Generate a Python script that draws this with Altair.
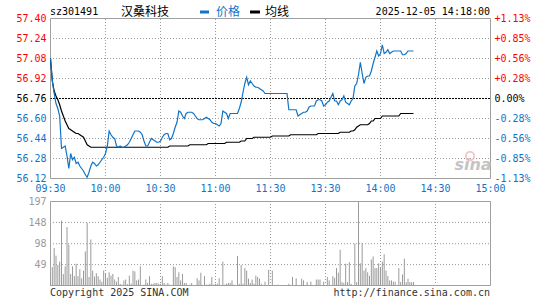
import altair as alt
import pandas as pd

# ---------------- data ----------------
CODE = "sz301491"
NAME = "汉桑科技"
STAMP = "2025-12-05 14:18:00"
SERIES = ["价格", "均线"]
COPYRIGHT = "Copyright 2025 SINA.COM"
URL = "http://finance.sina.com.cn"
WATERMARK = "sina"

PREV_CLOSE = 56.76
PRICE_TICKS = [56.12, 56.28, 56.44, 56.60, 56.76, 56.92, 57.08, 57.24, 57.40]
VOLUME_TICKS = [49, 98, 148, 197]
TIME_TICKS = [0, 30, 60, 90, 120, 150, 180, 210, 240]
TIME_LABELS = ["09:30", "10:00", "10:30", "11:00", "11:30",
               "13:30", "14:00", "14:30", "15:00"]

# one value per trading minute, 09:30 ... 11:30/13:00 ... 14:18
PRICE = [
    57.08, 56.90, 56.80, 56.72, 56.68, 56.62, 56.36, 56.37, 56.38, 56.30,
    56.20, 56.32, 56.27, 56.29, 56.24, 56.25, 56.22, 56.20, 56.18, 56.15,
    56.13, 56.17, 56.22, 56.25, 56.24, 56.22, 56.23, 56.25, 56.27, 56.29,
    56.32, 56.38, 56.50, 56.47, 56.45, 56.44, 56.38, 56.37, 56.38, 56.37,
    56.37, 56.38, 56.39, 56.41, 56.44, 56.47, 56.50, 56.50, 56.50, 56.49,
    56.47, 56.42, 56.38, 56.38, 56.41, 56.44, 56.43, 56.42, 56.41, 56.41,
    56.42, 56.45, 56.47, 56.48, 56.48, 56.43, 56.44, 56.48, 56.53, 56.57,
    56.66, 56.65, 56.62, 56.60, 56.64, 56.65, 56.65, 56.65, 56.64, 56.62,
    56.60, 56.59, 56.59, 56.59, 56.60, 56.61, 56.60, 56.59, 56.57, 56.56,
    56.56, 56.55, 56.54, 56.56, 56.66, 56.65, 56.64, 56.60, 56.64, 56.64,
    56.64, 56.64, 56.64, 56.68, 56.73, 56.81, 56.88, 56.93, 56.87, 56.90,
    56.88, 56.86, 56.85, 56.85, 56.84, 56.83, 56.82, 56.80, 56.80, 56.80,
    56.80, 56.80, 56.80, 56.80, 56.80, 56.80, 56.80, 56.80, 56.80, 56.80,
    56.67, 56.67, 56.67, 56.67, 56.67, 56.62, 56.63, 56.64, 56.65, 56.65,
    56.66, 56.69, 56.70, 56.70, 56.70, 56.74, 56.75, 56.75, 56.74, 56.70,
    56.71, 56.73, 56.74, 56.77, 56.80, 56.74, 56.74, 56.71, 56.74, 56.75,
    56.78, 56.73, 56.72, 56.71, 56.74, 56.76, 56.86, 56.88, 56.95, 57.05,
    56.96, 56.88, 56.93, 56.94, 56.94, 56.98, 57.04, 57.09, 57.14, 57.10,
    57.12, 57.19, 57.12, 57.13, 57.15, 57.12, 57.13, 57.14, 57.14, 57.14,
    57.14, 57.14, 57.11, 57.11, 57.12, 57.14, 57.14, 57.14, 57.14,
]

AVERAGE = [
    57.08, 56.90, 56.82, 56.78, 56.75, 56.71, 56.66, 56.62, 56.58, 56.55,
    56.52, 56.51, 56.50, 56.49, 56.48, 56.48, 56.47, 56.46, 56.45, 56.42,
    56.39, 56.38, 56.37, 56.37, 56.37, 56.37, 56.37, 56.37, 56.37, 56.37,
    56.37, 56.37, 56.37, 56.37, 56.37, 56.37, 56.37, 56.37, 56.37, 56.37,
    56.37, 56.37, 56.37, 56.37, 56.37, 56.37, 56.37, 56.37, 56.37, 56.37,
    56.37, 56.37, 56.37, 56.37, 56.37, 56.37, 56.37, 56.37, 56.37, 56.37,
    56.37, 56.37, 56.37, 56.37, 56.37, 56.38, 56.38, 56.38, 56.38, 56.38,
    56.38, 56.38, 56.38, 56.38, 56.38, 56.38, 56.39, 56.39, 56.39, 56.39,
    56.39, 56.39, 56.39, 56.39, 56.39, 56.39, 56.40, 56.40, 56.40, 56.40,
    56.40, 56.40, 56.40, 56.40, 56.40, 56.40, 56.41, 56.41, 56.41, 56.41,
    56.41, 56.41, 56.41, 56.41, 56.42, 56.42, 56.42, 56.44, 56.44, 56.44,
    56.44, 56.45, 56.45, 56.45, 56.45, 56.45, 56.45, 56.45, 56.45, 56.45,
    56.45, 56.46, 56.46, 56.46, 56.46, 56.46, 56.46, 56.46, 56.46, 56.46,
    56.46, 56.47, 56.47, 56.47, 56.47, 56.47, 56.47, 56.47, 56.47, 56.47,
    56.47, 56.47, 56.47, 56.47, 56.47, 56.47, 56.48, 56.48, 56.48, 56.48,
    56.48, 56.48, 56.48, 56.48, 56.48, 56.48, 56.48, 56.48, 56.49, 56.49,
    56.49, 56.49, 56.49, 56.49, 56.50, 56.50, 56.51, 56.53, 56.54, 56.55,
    56.55, 56.55, 56.55, 56.55, 56.56, 56.58, 56.58, 56.60, 56.60, 56.60,
    56.60, 56.62, 56.62, 56.62, 56.62, 56.62, 56.62, 56.62, 56.62, 56.62,
    56.62, 56.64, 56.64, 56.64, 56.64, 56.64, 56.64, 56.64, 56.64,
]

VOLUME = [
    14, 43, 88, 70, 48, 56, 152, 27, 45, 137,
    96, 27, 45, 22, 51, 22, 38, 17, 35, 80,
    147, 20, 108, 35, 21, 29, 22, 14, 9, 35,
    27, 18, 31, 23, 27, 14, 9, 20, 4, 2,
    12, 14, 3, 23, 4, 35, 33, 12, 14, 45,
    0, 2, 14, 6, 22, 4, 4, 6, 6, 4,
    4, 22, 6, 2, 6, 2, 0, 45, 43, 20,
    31, 12, 27, 6, 6, 0, 2, 6, 0, 0,
    17, 12, 30, 0, 22, 2, 2, 4, 20, 2,
    4, 4, 17, 0, 56, 2, 4, 6, 6, 12,
    2, 0, 69, 4, 48, 4, 41, 35, 16, 6,
    14, 4, 23, 20, 16, 4, 0, 9, 0, 37,
    0, 35, 0, 0, 2, 0, 0, 0, 0, 0,
    4, 0, 20, 0, 17, 0, 0, 16, 12, 0,
    8, 0, 9, 0, 0, 14, 14, 14, 0, 9,
    0, 20, 12, 0, 22, 18, 41, 30, 84, 8,
    6, 51, 8, 55, 4, 0, 98, 8, 197, 52,
    100, 35, 41, 31, 23, 61, 68, 41, 41, 52,
    41, 56, 73, 35, 22, 12, 12, 9, 9, 0,
    41, 8, 26, 63, 8, 16, 8, 8, 8,
]

# ---------------- styles ----------------
BLUE = "#0f74c8"
RED = "#ff0000"
BLACK = "#000000"
GRID = "#999999"
FRAME = "#a0a0a0"
VOLGRAY = "#9a9a9a"
MONO = "DejaVu Sans Mono"
CJK = "Noto Sans CJK SC"

df = pd.DataFrame({"m": list(range(len(PRICE))), "price": PRICE,
                   "avg": AVERAGE, "vol": VOLUME})
time_df = pd.DataFrame({"t": TIME_TICKS, "lab": TIME_LABELS})
inner_time_df = pd.DataFrame({"t": TIME_TICKS[1:-1]})
edge_time_df = pd.DataFrame({"t": [TIME_TICKS[0], TIME_TICKS[-1]]})
inner_price_df = pd.DataFrame({"p": [p for p in PRICE_TICKS[1:-1] if abs(p - PREV_CLOSE) > 1e-6]})
edge_price_df = pd.DataFrame({"p": [PRICE_TICKS[0], PRICE_TICKS[-1]]})
inner_vol_df = pd.DataFrame({"v": VOLUME_TICKS[:-1]})
edge_vol_df = pd.DataFrame({"v": [0, VOLUME_TICKS[-1]]})


def price_scale():
    return alt.Scale(domain=[PRICE_TICKS[0], PRICE_TICKS[-1]], range=[160.5, 0.5],
                     nice=False, zero=False)


def volume_scale():
    return alt.Scale(domain=[0, VOLUME_TICKS[-1]], range=[267.5, 183.5], nice=False)


XS = alt.Scale(domain=[TIME_TICKS[0], TIME_TICKS[-1]], range=[0.5, 440.5], nice=False, zero=False)


def xm(field="m:Q"):
    return alt.X(field, scale=XS, axis=None)


def hrules(data, field, scale, color, dash=None):
    kw = {"strokeDash": dash, "strokeDashOffset": 0.5} if dash else {}
    return alt.Chart(data).mark_rule(color=color, strokeWidth=1, **kw).encode(
        x=alt.X(datum=TIME_TICKS[0], scale=XS, axis=None), x2=alt.X2(datum=TIME_TICKS[-1]),
        y=alt.Y(field, scale=scale, axis=None))


def vrules(data, lo, hi, scale, color, dash=None):
    kw = {"strokeDash": dash, "strokeDashOffset": 0.5} if dash else {}
    return alt.Chart(data).mark_rule(color=color, strokeWidth=1, **kw).encode(
        x=xm("t:Q"), y=alt.Y(datum=lo, scale=scale, axis=None), y2=alt.Y2(datum=hi))


price_color = {
    "condition": [
        {"test": f"datum.value > {PREV_CLOSE + 0.005}", "value": RED},
        {"test": f"datum.value > {PREV_CLOSE - 0.005}", "value": BLACK},
    ],
    "value": BLUE,
}
pct_expr = (
    f"datum.value > {PREV_CLOSE + 0.005} ? '+' + format((datum.value - {PREV_CLOSE}) / {PREV_CLOSE} * 100, '.2f') + '%' : "
    f"datum.value < {PREV_CLOSE - 0.005} ? '-' + format(({PREV_CLOSE} - datum.value) / {PREV_CLOSE} * 100, '.2f') + '%' : '0.00%'"
)

left_axis = alt.Axis(values=PRICE_TICKS, format=".2f", orient="left",
                     labelColor=price_color, domain=False, ticks=False, grid=False,
                     title=None, labelFont=MONO, labelFontSize=10, labelPadding=4,
                     labelOverlap=False)
right_axis = alt.Axis(values=PRICE_TICKS, labelExpr=pct_expr, orient="right", offset=-1,
                      labelColor=price_color, domain=False, ticks=False, grid=False,
                      title=None, labelFont=MONO, labelFontSize=10, labelPadding=3,
                      labelOverlap=False)
vol_axis = alt.Axis(values=VOLUME_TICKS, format="d", orient="left",
                    labelColor=VOLGRAY, domain=False, ticks=False, grid=False,
                    title=None, labelFont=MONO, labelFontSize=10, labelPadding=4,
                    labelOverlap=False)

one = alt.Data(values=[{"k": 1}])

# ---------------- grids and frames (all rules) ----------------
grid_layers = [
    hrules(inner_price_df, "p:Q", price_scale(), GRID, [1, 2]),
    vrules(inner_time_df, PRICE_TICKS[0], PRICE_TICKS[-1], price_scale(), GRID, [1, 2]),
    hrules(inner_vol_df, "v:Q", volume_scale(), GRID, [1, 2]),
    vrules(inner_time_df, 0, VOLUME_TICKS[-1], volume_scale(), GRID, [1, 2]),
    hrules(edge_price_df, "p:Q", price_scale(), FRAME),
    vrules(edge_time_df, PRICE_TICKS[0], PRICE_TICKS[-1], price_scale(), FRAME),
    hrules(edge_vol_df, "v:Q", volume_scale(), FRAME),
    vrules(edge_time_df, 0, VOLUME_TICKS[-1], volume_scale(), FRAME),
    hrules(pd.DataFrame({"p": [PREV_CLOSE]}), "p:Q", price_scale(), BLACK, [2, 1]),
]

# ---------------- data marks ----------------
v_bars = alt.Chart(df).mark_rule(color=VOLGRAY, strokeWidth=1).encode(
    x=xm(), y=alt.Y("vol:Q", scale=volume_scale(), axis=vol_axis),
    y2=alt.Y2(datum=0))

p_avg = alt.Chart(df).mark_line(color=BLACK, strokeWidth=1.2).encode(
    x=xm(), y=alt.Y("avg:Q", scale=price_scale(), axis=right_axis))

p_line = alt.Chart(df).mark_line(color=BLUE, strokeWidth=1.2).encode(
    x=xm(), y=alt.Y("price:Q", scale=price_scale(), axis=left_axis))

time_labels = alt.Chart(time_df).mark_text(
    color=BLUE, font=MONO, fontSize=10, baseline="middle", align="center"
).encode(x=xm("t:Q"), y=alt.value(170.5), text="lab:N")


# ---------------- header / footer text (plot-local pixel positions) ----------------
def label(text, x, y, color=BLACK, font=MONO, size=10, align="left", **kw):
    return alt.Chart(alt.Data(values=[{"t": text}])).mark_text(
        align=align, baseline="middle", font=font, fontSize=size, color=color, **kw
    ).encode(x=alt.value(x), y=alt.value(y), text="t:N")


def swatch(x1, x2, y, color):
    return alt.Chart(one).mark_rule(color=color, strokeWidth=3).encode(
        x=alt.value(x1), x2=alt.value(x2), y=alt.value(y))


texts = [
    label(CODE, 0, -6),
    label(NAME, 71, -6, font=CJK, size=12),
    swatch(150, 159, -6, BLUE),
    label(SERIES[0], 166, -6, color=BLUE, font=CJK, size=12),
    swatch(200, 210, -6, BLACK),
    label(SERIES[1], 215, -6, font=CJK, size=12),
    label(STAMP, 440, -6, align="right"),
    label(COPYRIGHT, 0, 274.5, color="#333333"),
    label(URL, 440, 274.5, color="#333333", align="right"),
    label(WATERMARK, 423, 147, color="#c4c4c4", font="DejaVu Sans", size=16,
          fontStyle="italic", fontWeight="bold", align="center"),
    alt.Chart(one).mark_point(shape="circle", filled=False, color="#f2b3b3",
                              strokeWidth=2, size=70).encode(
        x=alt.value(420), y=alt.value(138)),
]

layers = grid_layers + [v_bars, p_avg, p_line, time_labels] + texts

chart = alt.layer(*layers).resolve_scale(y="independent").properties(
    width=442,
    height=268,
    padding={"left": 50, "top": 18, "right": 53, "bottom": 14},
    autosize=alt.AutoSizeParams(type="none"),
).configure_view(strokeWidth=0)

chart.save("out.html", embed_options={"renderer": "svg", "actions": False})
